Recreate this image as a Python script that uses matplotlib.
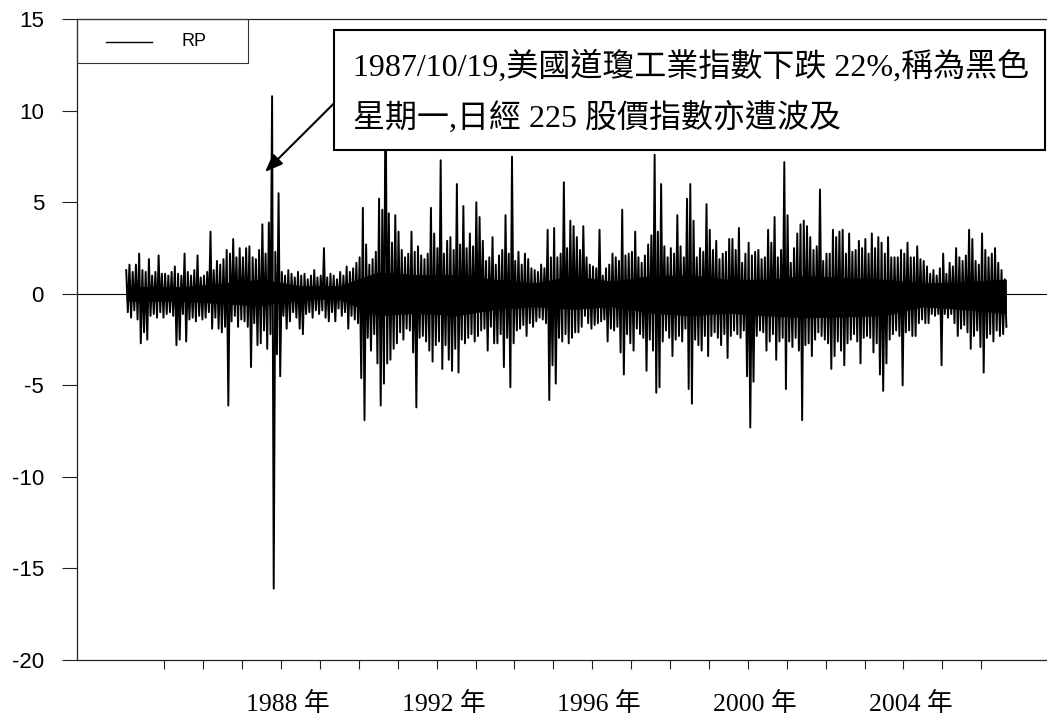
import matplotlib
matplotlib.use("Agg")
import numpy as np
import matplotlib.pyplot as plt
import matplotlib.transforms as mtransforms
from matplotlib.patches import Rectangle
from matplotlib.lines import Line2D

plt.rcParams["axes.unicode_minus"] = False

# 日經 225 日報酬 RP (%) -- 每月最高 / 最低值, 1984/01 起
start_year = 1984
rp_high = [
    1.3, 1.6, 1.2, 1.6, 2.2, 1.3, 1.2, 1.9, 1.0, 1.2, 2.1, 1.1,   # 1984
    1.1, 1.0, 1.2, 1.5, 1.1, 1.0, 2.2, 1.2, 1.0, 1.3, 2.1, 0.9,   # 1985
    1.0, 1.2, 3.4, 1.3, 1.8, 1.6, 1.9, 2.4, 2.2, 3.0, 2.0, 2.5,   # 1986
    2.0, 2.5, 2.6, 2.0, 1.9, 2.4, 3.8, 2.2, 3.9, 10.8, 2.3, 5.5,  # 1987
    1.2, 1.0, 1.3, 1.1, 0.9, 1.2, 1.0, 1.1, 0.8, 1.0, 1.3, 0.9,   # 1988
    1.0, 2.5, 0.9, 1.1, 1.0, 0.8, 1.2, 1.0, 1.5, 1.2, 1.4, 1.7,   # 1989
    2.0, 4.7, 2.7, 1.6, 1.9, 2.3, 5.2, 4.6, 12.4, 4.4, 2.8, 4.3,  # 1990
    3.4, 2.4, 2.0, 2.2, 3.4, 2.3, 2.6, 2.1, 1.9, 2.2, 4.7, 3.3,   # 1991
    2.5, 7.3, 2.2, 2.9, 3.1, 2.4, 6.0, 2.7, 4.8, 2.5, 3.3, 2.6,   # 1992
    5.0, 4.2, 2.9, 1.8, 2.0, 3.1, 1.6, 2.1, 2.4, 4.3, 2.2, 7.5,   # 1993
    1.8, 2.3, 1.6, 2.2, 1.9, 1.4, 1.3, 1.2, 1.6, 1.4, 3.5, 2.0,   # 1994
    3.6, 2.0, 2.2, 6.1, 2.5, 4.0, 3.7, 3.1, 2.4, 3.7, 2.0, 1.6,   # 1995
    1.5, 1.4, 3.5, 1.0, 1.4, 1.6, 2.2, 2.0, 1.8, 4.6, 2.1, 2.2,   # 1996
    2.3, 3.4, 2.0, 1.7, 2.1, 2.7, 3.2, 7.6, 3.4, 6.0, 2.6, 2.0,   # 1997
    2.5, 2.2, 4.3, 2.6, 2.0, 5.2, 6.0, 4.0, 2.0, 2.5, 2.3, 4.9,   # 1998
    3.5, 2.4, 2.9, 1.9, 2.2, 2.3, 3.0, 3.0, 2.4, 3.6, 1.7, 2.2,   # 1999
    2.8, 2.1, 2.3, 2.4, 1.9, 2.0, 3.5, 2.8, 4.2, 2.0, 2.4, 7.2,   # 2000
    4.3, 1.7, 2.5, 3.3, 3.8, 4.0, 3.7, 3.1, 2.4, 2.6, 5.7, 1.8,   # 2001
    2.2, 2.2, 3.5, 3.1, 3.4, 3.5, 2.2, 3.3, 2.3, 2.4, 2.9, 2.5,   # 2002
    3.0, 2.2, 3.3, 2.5, 3.1, 2.8, 2.2, 3.1, 2.0, 2.0, 2.0, 2.4,   # 2003
    2.2, 2.8, 2.0, 2.0, 2.6, 1.9, 1.8, 1.5, 1.1, 1.3, 1.0, 1.4,   # 2004
    2.2, 1.1, 1.7, 1.5, 2.5, 2.0, 1.8, 2.1, 3.5, 3.0, 1.8, 1.6,   # 2005
    3.3, 2.4, 2.0, 2.2, 2.5, 1.7, 1.3, 0.8,                       # 2006
]
rp_low = [
    -1.0, -1.3, -0.9, -1.4, -2.7, -2.1, -2.5, -1.2, -1.1, -1.3, -1.0, -1.3,   # 1984
    -1.1, -1.0, -1.2, -2.8, -2.5, -1.1, -2.6, -1.4, -1.3, -1.5, -1.2, -1.4,   # 1985
    -1.3, -1.0, -1.9, -1.3, -1.9, -2.1, -1.8, -6.1, -1.5, -1.2, -1.8, -1.4,   # 1986
    -1.5, -1.8, -4.0, -1.6, -2.8, -2.7, -2.0, -3.0, -2.2, -16.1, -3.3, -4.5,  # 1987
    -1.2, -1.9, -1.5, -1.0, -1.3, -1.9, -2.2, -1.1, -1.0, -1.3, -0.9, -1.1,   # 1988
    -0.9, -1.3, -1.5, -1.0, -1.5, -0.8, -1.2, -1.0, -1.9, -1.2, -1.4, -1.6,   # 1989
    -4.6, -6.9, -2.4, -3.1, -2.2, -3.8, -6.1, -4.9, -3.8, -3.6, -3.0, -2.7,   # 1990
    -2.1, -2.5, -1.9, -2.0, -3.2, -6.2, -2.4, -2.3, -2.6, -3.1, -3.7, -2.8,   # 1991
    -2.6, -4.1, -2.8, -3.6, -4.2, -3.0, -4.3, -2.5, -2.7, -2.4, -2.2, -2.6,   # 1992
    -2.3, -2.0, -1.9, -3.1, -1.8, -2.7, -2.7, -2.2, -4.0, -2.4, -5.1, -2.7,   # 1993
    -2.0, -1.9, -1.7, -2.3, -1.6, -1.8, -1.5, -1.3, -1.4, -1.6, -5.8, -3.9,   # 1994
    -4.9, -2.4, -2.6, -2.2, -2.7, -2.4, -2.1, -2.1, -1.8, -1.2, -1.6, -1.9,   # 1995
    -1.7, -1.6, -1.5, -1.4, -2.6, -1.9, -2.0, -1.8, -3.2, -4.4, -2.2, -2.7,   # 1996
    -3.1, -1.9, -2.2, -2.4, -4.2, -2.5, -3.1, -5.4, -5.1, -2.6, -2.0, -2.4,   # 1997
    -3.4, -2.5, -2.3, -2.6, -1.9, -5.2, -6.0, -2.5, -2.8, -3.1, -2.3, -3.4,   # 1998
    -2.3, -2.1, -2.4, -2.8, -2.2, -3.5, -2.3, -2.0, -2.2, -2.4, -2.0, -4.5,   # 1999
    -7.3, -4.8, -2.3, -2.0, -2.1, -3.1, -2.6, -2.2, -3.6, -2.6, -2.4, -5.2,   # 2000
    -2.6, -2.9, -2.4, -3.1, -6.9, -2.8, -2.7, -3.4, -2.5, -2.1, -2.3, -2.5,   # 2001
    -2.7, -4.1, -3.4, -2.6, -3.1, -3.9, -2.7, -2.5, -2.2, -2.6, -3.8, -2.4,   # 2002
    -2.3, -2.4, -3.2, -2.7, -4.4, -5.3, -3.8, -2.5, -2.2, -2.0, -2.3, -5.0,   # 2003
    -2.1, -2.0, -2.3, -2.3, -1.6, -1.4, -1.6, -1.6, -1.1, -1.2, -1.1, -3.9,   # 2004
    -1.1, -1.3, -1.1, -1.6, -2.3, -1.9, -1.7, -2.1, -3.0, -2.3, -2.0, -2.9,   # 2005
    -4.3, -2.4, -2.2, -2.6, -2.0, -2.3, -2.2, -1.8,                           # 2006
]

# 每年日報酬最密集的實心區 (黑帶內緣)
core_years = list(range(1984, 2007))
core_top = [0.4, 0.4, 0.6, 0.8, 0.45, 0.45, 1.2, 1.05, 1.05, 0.8, 0.6, 1.0,
            0.7, 1.0, 1.05, 0.8, 0.8, 1.0, 0.9, 0.8, 0.6, 0.65, 0.8]
core_bottom = [-0.4, -0.4, -0.55, -0.65, -0.3, -0.3, -1.2, -1.05, -1.2, -0.85, -0.7, -0.85,
               -0.7, -1.05, -1.2, -1.05, -1.2, -1.3, -1.25, -1.2, -0.7, -0.85, -1.05]

year_ticks = list(range(1985, 2007))
year_labels = [1988, 1992, 1996, 2000, 2004]
y_ticks = [-20, -15, -10, -5, 0, 5, 10, 15]
note_lines = ["1987/10/19,美國道瓊工業指數下跌 22%,稱為黑色",
              "星期一,日經 225 股價指數亦遭波及"]
arrow_tip = (1987.59, 6.66)
arrow_tail = (1989.39, 10.47)

# 高低交錯排成一條日報酬折線
n = len(rp_high)
idx = np.arange(n)
t = np.empty(2 * n)
v = np.empty(2 * n)
t[0::2] = start_year + (idx + 0.25) / 12
t[1::2] = start_year + (idx + 0.75) / 12
v[0::2] = rp_high
v[1::2] = rp_low

fig = plt.figure(figsize=(10.47, 7.17), dpi=100)
ax = fig.add_axes([77 / 1047, 1 - 660 / 717, 970 / 1047, 640.7 / 717])

ax.axhline(0, color="black", lw=0.8, zorder=1)

# 實心黑帶 (只畫在資料期間內)
cx = np.r_[t[0], np.array(core_years) + 0.5, t[-1]]
cx[-2] = min(cx[-2], t[-1])
ctop = np.r_[core_top[0], core_top, core_top[-1]]
cbot = np.r_[core_bottom[0], core_bottom, core_bottom[-1]]
ax.fill_between(cx, cbot, ctop, color="black", lw=0, zorder=2)
ax.plot(t, v, color="black", lw=1.4, zorder=3)

ax.set_xlim(1982.756, 2007.69)
ax.set_ylim(-20, 15)

ax.spines["right"].set_visible(False)
for s in ("left", "bottom", "top"):
    ax.spines[s].set_linewidth(0.9)
    ax.spines[s].set_color("#222222")

ax.set_xticks(year_ticks)
ax.set_xticklabels([])
ax.tick_params(axis="x", direction="out", length=6.2, width=0.8, color="#222222")
ax.set_yticks(y_ticks)
ax.set_yticklabels([str(y) for y in y_ticks], fontsize=16, family="Liberation Sans")
ax.tick_params(axis="y", direction="out", length=10.8, width=0.8, pad=13, color="#222222")

lab_font = ["Liberation Serif", "Noto Sans CJK TC"]
lab_tr = mtransforms.blended_transform_factory(ax.transData, fig.transFigure)
for yr in year_labels:
    ax.text(yr + 0.18, 0.0085, f"{yr} 年", transform=lab_tr,
            ha="center", va="baseline", fontsize=18.5, family=lab_font)

# 圖例
ax.add_patch(Rectangle((0, 0.9318), 0.1763, 0.0682, transform=ax.transAxes,
                       fill=False, edgecolor="#333333", lw=0.8, zorder=6, clip_on=False))
ax.add_line(Line2D([0.0299, 0.0773], [0.9646, 0.9646], transform=ax.transAxes,
                   color="black", lw=1.0, zorder=7))
ax.text(0.1082, 0.9646, "RP", transform=ax.transAxes, ha="left", va="center",
        fontsize=13, family="Liberation Sans", zorder=7)

# 說明文字框
box = Rectangle((334 / 1047, 1 - 150 / 717), 711 / 1047, 120 / 717, transform=fig.transFigure,
                facecolor="white", edgecolor="black", lw=1.5, zorder=8)
fig.patches.append(box)
fig.text(353 / 1047, 1 - 76 / 717, note_lines[0], ha="left", va="baseline",
         fontsize=23, family=lab_font, zorder=9)
fig.text(353 / 1047, 1 - 127 / 717, note_lines[1], ha="left", va="baseline",
         fontsize=23, family=lab_font, zorder=9)

ax.annotate("", xy=arrow_tip, xytext=arrow_tail,
            arrowprops=dict(arrowstyle="-|>,head_length=0.9,head_width=0.35",
                            mutation_scale=12, color="black", lw=1.5,
                            shrinkA=0, shrinkB=0), zorder=7)

fig.savefig("out.png", dpi=100)
